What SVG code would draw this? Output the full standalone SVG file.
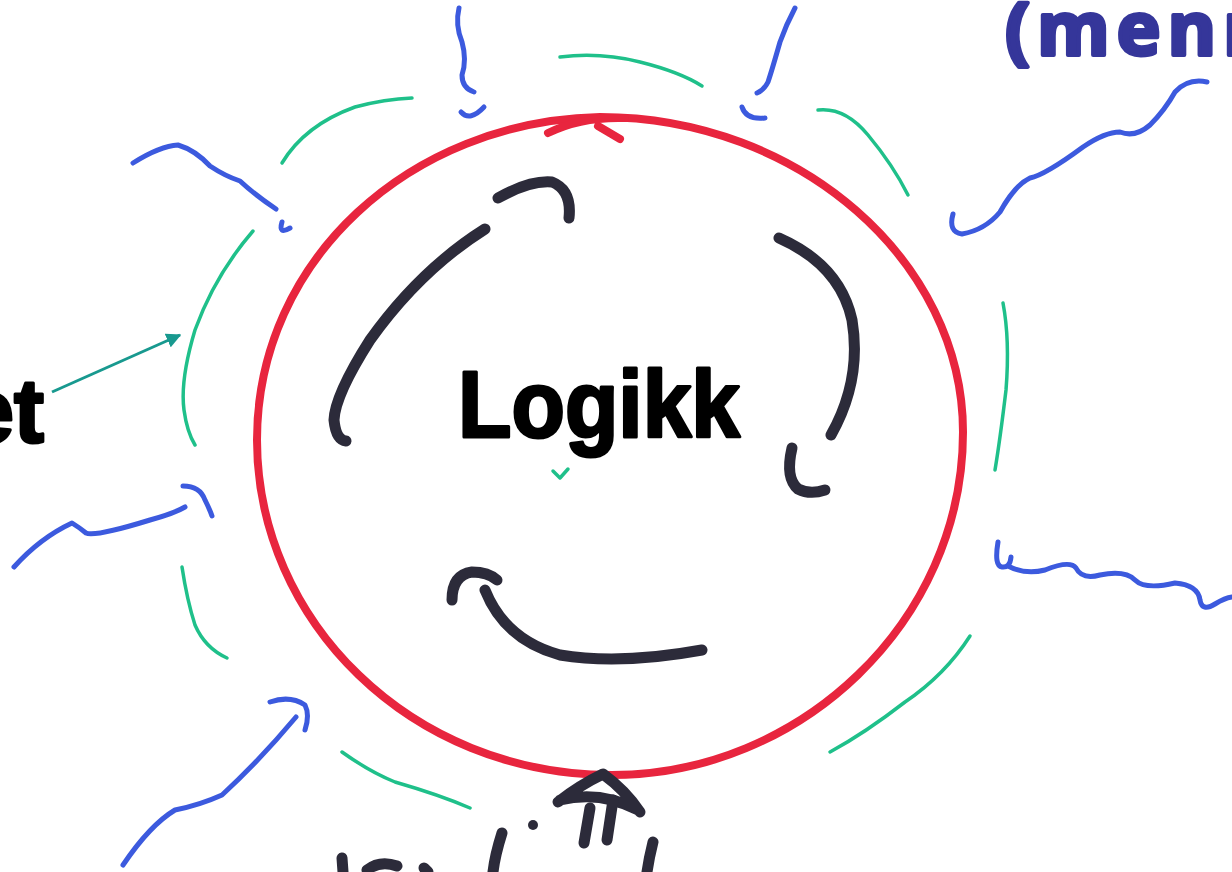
<svg xmlns="http://www.w3.org/2000/svg" width="1232" height="872" viewBox="0 0 1232 872">
<style>
.red{fill:none;stroke:#e8253e;stroke-width:8;stroke-linecap:round;stroke-linejoin:round}
.blk{fill:none;stroke:#2c2b3a;stroke-width:11;stroke-linecap:round;stroke-linejoin:round}
.blu{fill:none;stroke:#3c5ade;stroke-width:5;stroke-linecap:round;stroke-linejoin:round}
.grn{fill:none;stroke:#1fc08a;stroke-width:3.5;stroke-linecap:round;stroke-linejoin:round}
.teal{fill:none;stroke:#18998f;stroke-width:3}
.txt{font-family:"Liberation Sans",Arial,sans-serif;font-weight:bold;stroke-linejoin:round}
.hand{font-family:"Open Sans","Liberation Sans",sans-serif;font-weight:bold;stroke-linejoin:round}
</style>
<defs>
<marker id="ah" viewBox="0 0 10 10" refX="9" refY="5" markerWidth="5" markerHeight="5" orient="auto" markerUnits="strokeWidth">
<path d="M0,0 L10,5 L0,10 z" fill="#18998f"/>
</marker>
</defs>
<rect width="1232" height="872" fill="#ffffff"/>

<g id="logikk">
<path class="red" d="M600,117 C800,117 963,262 963,432 C963,622 800,775 612,775 C410,775 257,620 257,440 C257,260 410,121 600,117 Z"/>
<path class="red" d="M548,133 C570,122 595,117 625,118 M598,126 L620,139"/>
<path class="blk" d="M498,198 Q530,180 552,182 Q572,190 569,218"/>
<path class="blk" d="M485,229 Q420,270 370,340 Q335,395 334,420 Q336,440 346,441"/>
<path class="blk" d="M779,238 Q840,265 852,320 Q862,380 831,435"/>
<path class="blk" d="M792,448 Q785,478 798,489 Q810,495 825,490"/>
<path class="blk" d="M452,600 Q452,575 472,572 Q488,572 497,580"/>
<path class="blk" d="M485,590 Q505,640 560,655 Q620,665 702,650"/>
<text class="txt" x="599" y="437" font-size="94" text-anchor="middle" textLength="282" lengthAdjust="spacingAndGlyphs" fill="#000000" stroke="#000000" stroke-width="3">Logikk</text>
<path class="grn" d="M553,471 L560,478 L568,469" stroke-width="2.5"/>
</g>

<g id="menn">
<text class="hand" x="1005" y="55" font-size="74" fill="#35369a" stroke="#35369a" stroke-width="4" letter-spacing="7">(menn</text>
</g>

<g id="et">
<text class="txt" x="44" y="442" font-size="90" text-anchor="end" fill="#000000" stroke="#000000" stroke-width="3">et</text>
</g>

<g id="bottom">
<path class="blk" d="M558,802 Q580,785 603,774 Q625,790 640,812 M560,800 Q600,790 638,810"/>
<path class="blk" d="M590,808 L584,843 M613,800 L607,840" stroke-width="8"/>
<circle cx="533" cy="825" r="5" fill="#2c2b3a"/>
<path class="blk" d="M502,833 Q495,855 493,872 M653,842 Q649,858 647,872 M342,858 L343,872 M367,870 Q380,860 397,866 M424,868 L428,872" stroke-width="9"/>
</g>

<g id="connectors">
<path class="teal" d="M52,392 L180,335" marker-end="url(#ah)"/>

<path class="grn" d="M560,57 Q600,52 640,62 Q680,72 702,86"/>
<path class="grn" d="M282,163 Q305,125 355,107 Q385,99 412,98"/>
<path class="grn" d="M818,110 Q845,107 868,135 Q893,165 908,195"/>
<path class="grn" d="M253,231 Q215,275 195,330 Q180,380 184,410 Q187,432 195,445"/>
<path class="grn" d="M182,567 Q187,600 195,625 Q205,648 227,658"/>
<path class="grn" d="M1003,303 Q1010,340 1006,390 Q1000,440 995,470"/>
<path class="grn" d="M970,636 Q945,675 905,702 Q865,733 830,752"/>
<path class="grn" d="M342,752 Q370,772 395,782 Q440,795 470,808"/>

<path class="blu" d="M459,8 Q455,25 462,42 Q467,60 462,75 Q462,88 474,92"/>
<path class="blu" d="M461,112 Q470,122 484,107"/>
<path class="blu" d="M795,8 Q786,25 780,42 Q772,70 768,82 Q764,90 757,93"/>
<path class="blu" d="M742,107 Q746,120 765,118"/>
<path class="blu" d="M133,163 Q160,146 178,145 Q195,150 210,166 Q225,176 240,181 Q255,195 276,209"/>
<path class="blu" d="M282,222 Q278,235 290,228"/>
<path class="blu" d="M14,567 Q40,538 72,523 Q80,528 86,533 Q95,537 150,520 Q175,513 185,507"/>
<path class="blu" d="M183,486 Q200,486 205,500 Q210,510 212,516"/>
<path class="blu" d="M123,865 Q150,825 175,810 Q200,805 222,795 Q260,760 296,717"/>
<path class="blu" d="M270,702 Q290,695 305,705 Q310,715 305,730"/>
<path class="blu" d="M953,214 Q948,232 962,234 Q985,230 1000,212 Q1015,185 1030,178 Q1045,175 1083,147 Q1105,132 1120,132 Q1135,138 1150,125 Q1165,110 1175,92 Q1188,78 1207,82"/>
<path class="blu" d="M998,542 Q994,566 1002,567 Q1010,568 1011,557 M1008,566 Q1025,575 1045,570 Q1070,560 1076,568 Q1082,580 1100,575 Q1125,570 1135,580 Q1145,590 1175,583 Q1198,585 1200,600 Q1202,612 1215,604 Q1225,598 1232,597"/>
</g>
</svg>
